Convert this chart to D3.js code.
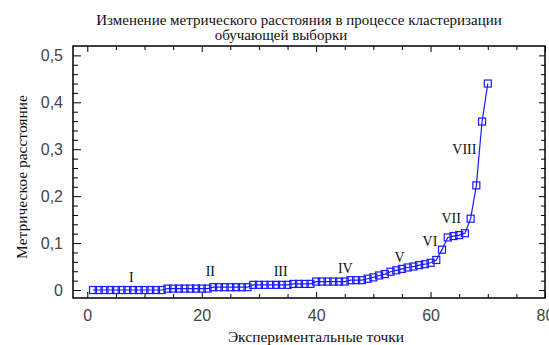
<!DOCTYPE html>
<html><head><meta charset="utf-8">
<script src="https://cdn.jsdelivr.net/npm/d3@7"></script>
<style>
html,body{margin:0;padding:0;background:#fff;}
svg{display:block;}
</style></head>
<body>
<svg id="chart" width="549" height="345"></svg>
<script>
const titleLines = ["Изменение метрического расстояния в процессе кластеризации", "обучающей выборки"];
const xTitle = "Экспериментальные точки";
const yTitle = "Метрическое расстояние";

const pointIndex = [1,2,3,4,5,6,7,8,9,10,11,12,13,14,15,16,17,18,19,20,
  21,22,23,24,25,26,27,28,29,30,31,32,33,34,35,36,37,38,39,40,
  41,42,43,44,45,46,47,48,49,50,51,52,53,54,55,56,57,58,59,60,
  61,62,63,64,65,66,67,68,69,70];
const distance = [0,0,0,0,0,0,0,0,0,0,0,0,0,
  0.003,0.003,0.003,0.003,0.003,0.003,0.003,0.003,
  0.006,0.006,0.006,0.006,0.006,0.006,0.006,
  0.011,0.011,0.011,0.011,0.011,0.011,0.011,
  0.013,0.013,0.013,0.013,
  0.018,0.018,0.018,0.018,0.018,0.018,
  0.021,0.021,0.021,0.024,0.027,0.031,0.034,0.039,0.042,0.045,
  0.048,0.050,0.053,0.055,0.058,0.064,0.086,
  0.112,0.115,0.117,0.121,0.152,0.223,0.359,0.440];

const clusterNames = ["I","II","III","IV","V","VI","VII","VIII"];
const clusterLabelX = [7.7, 21.5, 33.8, 45.1, 54.6, 59.9, 63.6, 65.9];
const clusterLabelY = [0.018, 0.029, 0.029, 0.037, 0.059, 0.094, 0.143, 0.290];

const xTicks = [0,20,40,60,80];
const yTicks = [0,0.1,0.2,0.3,0.4,0.5];

const svg = d3.select("#chart");
const L = 73, R = 545, T = 46, B = 298;
const x = d3.scaleLinear().domain([-2.5, 80]).range([L, R]);
const y = d3.scaleLinear().domain([-0.017, 0.52]).range([B, T]);
const fmt = v => String(v).replace(".", ",");
const serif = "Liberation Serif, Times New Roman, serif";

// Title
svg.append("text").attr("x", 299).attr("y", 25).attr("text-anchor","middle")
  .attr("font-family", serif).attr("font-size",15).attr("fill","#111")
  .text(titleLines[0]);
svg.append("text").attr("x", 281).attr("y", 40).attr("text-anchor","middle")
  .attr("font-family", serif).attr("font-size",15).attr("fill","#111")
  .text(titleLines[1]);

// Axes with inward ticks on all four sides
const minorX = d3.range(0, 81, 5).filter(v => !xTicks.includes(v));
const minorY = d3.range(0, 51, 2).map(v => v/100).filter(v => !yTicks.some(t => Math.abs(t-v) < 1e-9));

function axisTicks(axisGen, tr){
  const g = svg.append("g").attr("transform", tr).call(axisGen);
  g.select(".domain").remove();
  g.selectAll("line").attr("stroke","#000").attr("stroke-width",1);
  g.selectAll("text").remove();
  return g;
}
axisTicks(d3.axisBottom(x).tickValues(xTicks).tickSize(-6), `translate(0,${B})`);
axisTicks(d3.axisBottom(x).tickValues(minorX).tickSize(-4), `translate(0,${B})`);
axisTicks(d3.axisTop(x).tickValues(xTicks).tickSize(-6), `translate(0,${T})`);
axisTicks(d3.axisTop(x).tickValues(minorX).tickSize(-4), `translate(0,${T})`);
axisTicks(d3.axisLeft(y).tickValues(yTicks).tickSize(-8), `translate(${L},0)`);
axisTicks(d3.axisLeft(y).tickValues(minorY).tickSize(-5), `translate(${L},0)`);
axisTicks(d3.axisRight(y).tickValues(yTicks).tickSize(-6), `translate(${R},0)`);
axisTicks(d3.axisRight(y).tickValues(minorY).tickSize(-4), `translate(${R},0)`);

// Frame
svg.append("rect").attr("x", L).attr("y", T).attr("width", R-L).attr("height", B-T)
  .attr("fill","none").attr("stroke","#000").attr("stroke-width",1.5);

// Tick labels
const xl = svg.append("g").attr("transform", `translate(0,${B})`)
  .call(d3.axisBottom(x).tickValues(xTicks).tickSize(0).tickPadding(12).tickFormat(fmt));
xl.select(".domain").remove();
xl.selectAll("text").attr("font-family","Liberation Sans, Arial, sans-serif").attr("font-size",16).attr("fill","#444");
const yl = svg.append("g").attr("transform", `translate(${L},0)`)
  .call(d3.axisLeft(y).tickValues(yTicks).tickSize(0).tickPadding(10).tickFormat(fmt));
yl.select(".domain").remove();
yl.selectAll("text").attr("font-family","Liberation Sans, Arial, sans-serif").attr("font-size",16).attr("fill","#444");

// Axis titles
svg.append("text").attr("x", 316).attr("y", 342).attr("text-anchor","middle")
  .attr("font-family", serif).attr("font-size",15.5).attr("fill","#111")
  .text(xTitle);
svg.append("text").attr("transform", "translate(27,177) rotate(-90)").attr("text-anchor","middle")
  .attr("font-family", serif).attr("font-size",15.5).attr("fill","#111")
  .text(yTitle);

// Line + markers
const blue = "#1a1aff";
const pts = pointIndex.map((v,i) => [v, distance[i]]);
svg.append("path").datum(pts)
  .attr("d", d3.line().x(d => x(d[0])).y(d => y(d[1])))
  .attr("fill","none").attr("stroke", blue).attr("stroke-width",1.2);
svg.append("g").selectAll("rect").data(pts).join("rect")
  .attr("x", d => x(d[0]) - 3.5).attr("y", d => y(d[1]) - 3.5)
  .attr("width", 7).attr("height", 7)
  .attr("fill","none").attr("stroke", blue).attr("stroke-width",1.2);

// Cluster labels
svg.append("g").selectAll("text").data(clusterNames).join("text")
  .attr("x", (d,i) => x(clusterLabelX[i])).attr("y", (d,i) => y(clusterLabelY[i]))
  .attr("text-anchor","middle")
  .attr("font-family", serif).attr("font-size",14).attr("fill","#111")
  .text(d => d);
</script>
</body></html>
